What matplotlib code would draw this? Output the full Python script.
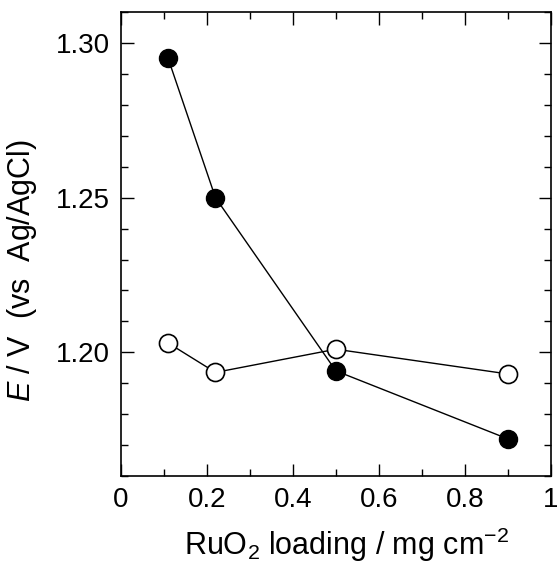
import matplotlib
matplotlib.use("Agg")
import matplotlib.pyplot as plt
from matplotlib.ticker import MultipleLocator

plt.rcParams['font.family'] = ['Liberation Sans', 'DejaVu Sans']
plt.rcParams['mathtext.fontset'] = 'custom'
plt.rcParams['mathtext.rm'] = 'Liberation Sans'
plt.rcParams['mathtext.it'] = 'Liberation Sans:italic'

loading = [0.11, 0.22, 0.50, 0.90]
e_filled = [1.295, 1.250, 1.194, 1.172]
e_open = [1.203, 1.1935, 1.201, 1.193]

x_ticks = [0, 0.2, 0.4, 0.6, 0.8, 1.0]
x_tick_labels = ["0", "0.2", "0.4", "0.6", "0.8", "1"]
y_ticks = [1.20, 1.25, 1.30]
y_tick_labels = ["1.20", "1.25", "1.30"]

fig = plt.figure(figsize=(5.57, 5.63), dpi=100)
ax = fig.add_axes([0.217, 0.1545, 0.772, 0.824])

ax.plot(loading, e_filled, '-', color='black', lw=1.0, marker='o', ms=13,
        mfc='black', mec='black', mew=1.0, zorder=3)
ax.plot(loading, e_open, '-', color='black', lw=1.0, marker='o', ms=13,
        mfc='white', mec='black', mew=1.2, zorder=3)

ax.set_xlim(0, 1.0)
ax.set_ylim(1.16, 1.31)
ax.set_xticks(x_ticks)
ax.set_xticklabels(x_tick_labels)
ax.set_yticks(y_ticks)
ax.set_yticklabels(y_tick_labels)
ax.xaxis.set_minor_locator(MultipleLocator(0.1))
ax.yaxis.set_minor_locator(MultipleLocator(0.01))

ax.tick_params(which='both', direction='in', top=True, right=True, width=1.0)
ax.tick_params(which='major', length=9, labelsize=20, pad=8)
ax.tick_params(which='minor', length=5)
for s in ax.spines.values():
    s.set_linewidth(1.2)

ax.set_xlabel(r'RuO$_2$ loading / mg cm$^{-2}$', fontsize=22, labelpad=9)
ax.set_ylabel(r'$E$ / V  (vs  Ag/AgCl)', fontsize=22)
ax.xaxis.label.set_x(0.526)
ax.yaxis.set_label_coords(-0.19, 0.444)

fig.savefig('out.png', dpi=100)
